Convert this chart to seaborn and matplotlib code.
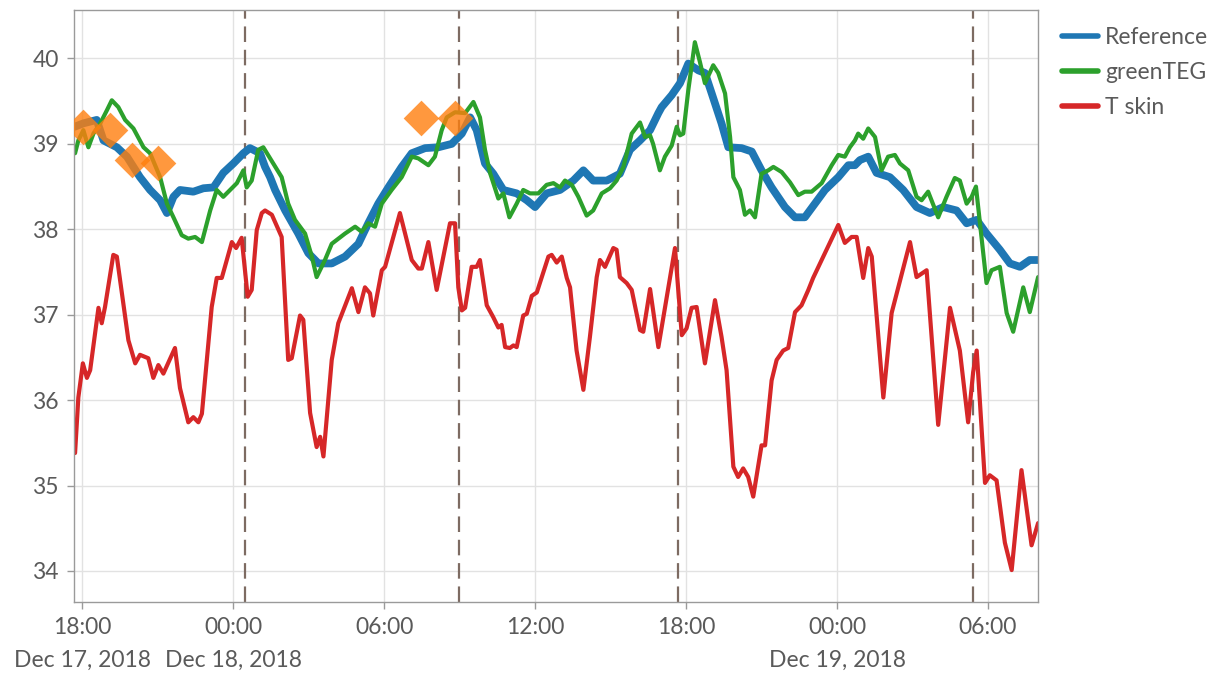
import pandas as pd
import matplotlib.pyplot as plt
import seaborn as sns

# hours after Dec 17, 2018 18:00 and temperature in degC
ref_hours = [-0.30, 0.05, 0.58, 0.85, 1.38, 1.78, 2.30, 2.70, 3.10, 3.37, 3.63, 3.89, 4.42, 4.82, 5.22,
             5.61, 6.01, 6.41, 6.67, 7.07, 7.27, 7.47, 7.67, 8.07, 8.59, 8.99, 9.39, 9.92, 10.45, 10.98,
             11.37, 11.77, 12.17, 12.70, 13.10, 13.63, 14.16, 14.69, 15.09, 15.42, 15.68, 16.01, 16.34,
             16.74, 17.27, 17.67, 18.00, 18.46, 18.99, 19.52, 19.92, 20.31, 20.85, 21.37, 21.77, 22.17,
             22.57, 22.90, 23.03, 23.43, 23.76, 24.09, 24.49, 24.75, 25.02, 25.41, 25.68, 26.21, 26.61,
             27.00, 27.40, 27.93, 28.33, 28.72, 29.12, 29.52, 30.05, 30.45, 30.71, 30.91, 31.24, 31.57,
             32.10, 32.63, 33.16, 33.69, 34.22, 34.75, 35.15, 35.55, 35.94, 36.47, 36.87, 37.27, 37.66,
             37.99]
ref_temp = [39.20, 39.24, 39.28, 39.04, 38.96, 38.85, 38.61, 38.46, 38.34, 38.19, 38.38, 38.46, 38.44,
            38.48, 38.49, 38.66, 38.77, 38.89, 38.95, 38.89, 38.73, 38.61, 38.46, 38.22, 37.95, 37.72,
            37.60, 37.60, 37.68, 37.83, 38.07, 38.30, 38.49, 38.73, 38.89, 38.95, 38.96, 39.00, 39.12,
            39.31, 39.16, 38.77, 38.65, 38.46, 38.42, 38.34, 38.26, 38.42, 38.46, 38.57, 38.69, 38.57,
            38.57, 38.65, 38.93, 39.04, 39.16, 39.36, 39.43, 39.57, 39.71, 39.94, 39.86, 39.83, 39.59,
            39.24, 38.96, 38.95, 38.91, 38.69, 38.49, 38.26, 38.14, 38.14, 38.30, 38.46, 38.61, 38.75,
            38.75, 38.81, 38.85, 38.66, 38.61, 38.46, 38.26, 38.19, 38.26, 38.22, 38.07, 38.11, 37.95,
            37.76, 37.60, 37.56, 37.64, 37.64]

teg_hours = [-0.28, -0.15, 0.05, 0.25, 0.45, 0.72, 0.98, 1.18, 1.44, 1.71, 2.04, 2.44, 2.70, 3.10, 3.37,
             3.63, 3.96, 4.22, 4.49, 4.76, 5.09, 5.35, 5.61, 5.88, 6.15, 6.41, 6.54, 6.74, 7.00, 7.20,
             7.47, 7.93, 8.19, 8.46, 8.86, 9.13, 9.32, 9.65, 9.92, 10.45, 10.85, 11.11, 11.37, 11.64,
             11.91, 12.30, 12.70, 13.10, 13.36, 13.76, 14.02, 14.29, 14.49, 14.82, 15.22, 15.55, 15.81,
             16.01, 16.21, 16.54, 16.74, 16.98, 17.27, 17.53, 17.80, 18.13, 18.46, 18.73, 18.99, 19.19,
             19.46, 19.72, 20.05, 20.31, 20.65, 20.98, 21.24, 21.51, 21.84, 22.17, 22.37, 22.57, 22.69,
             22.96, 23.16, 23.43, 23.63, 23.76, 23.89, 24.09, 24.35, 24.55, 24.75, 25.08, 25.28, 25.55,
             25.75, 25.88, 26.14, 26.34, 26.54, 26.74, 27.00, 27.27, 27.47, 27.80, 28.13, 28.46, 28.72,
             28.99, 29.39, 29.79, 30.05, 30.31, 30.51, 30.71, 30.84, 31.04, 31.24, 31.51, 31.77, 32.03,
             32.30, 32.50, 32.83, 33.16, 33.36, 33.62, 34.02, 34.35, 34.68, 34.88, 35.15, 35.35, 35.52,
             35.74, 35.94, 36.14, 36.47, 36.74, 37.00, 37.40, 37.66, 37.99]
teg_temp = [38.89, 39.04, 39.16, 38.96, 39.12, 39.24, 39.39, 39.51, 39.43, 39.28, 39.18, 38.96, 38.89,
            38.61, 38.30, 38.14, 37.93, 37.89, 37.91, 37.85, 38.22, 38.46, 38.38, 38.46, 38.54, 38.69,
            38.49, 38.57, 38.93, 38.96, 38.83, 38.61, 38.30, 38.11, 37.95, 37.68, 37.44, 37.64, 37.83,
            37.95, 38.03, 37.97, 38.07, 38.03, 38.30, 38.46, 38.61, 38.85, 38.83, 38.75, 38.85, 39.16,
            39.31, 39.37, 39.36, 39.49, 39.31, 38.93, 38.66, 38.36, 38.42, 38.14, 38.30, 38.46, 38.42,
            38.42, 38.52, 38.54, 38.49, 38.57, 38.52, 38.38, 38.16, 38.22, 38.42, 38.48, 38.57, 38.73,
            39.12, 39.25, 39.08, 39.10, 39.00, 38.69, 38.85, 38.98, 39.20, 39.10, 39.12, 39.63, 40.19,
            39.96, 39.71, 39.92, 39.83, 39.59, 39.08, 38.61, 38.46, 38.17, 38.22, 38.14, 38.65, 38.69,
            38.73, 38.67, 38.55, 38.40, 38.44, 38.44, 38.54, 38.75, 38.87, 38.85, 38.96, 39.04, 39.12,
            39.06, 39.18, 39.08, 38.69, 38.85, 38.87, 38.77, 38.69, 38.38, 38.34, 38.44, 38.14, 38.38,
            38.60, 38.57, 38.30, 38.38, 38.50, 37.91, 37.37, 37.52, 37.56, 37.02, 36.80, 37.32, 37.03,
            37.44]

skin_hours = [-0.28, -0.15, 0.03, 0.19, 0.32, 0.65, 0.78, 0.91, 1.24, 1.38, 1.84, 2.11, 2.30, 2.63, 2.83,
              3.03, 3.23, 3.69, 3.89, 4.22, 4.42, 4.62, 4.76, 5.15, 5.35, 5.55, 5.95, 6.12, 6.34, 6.58,
              6.74, 6.94, 7.14, 7.27, 7.54, 7.93, 8.19, 8.33, 8.66, 8.79, 9.06, 9.32, 9.46, 9.59, 9.92,
              10.18, 10.72, 10.98, 11.24, 11.44, 11.57, 11.91, 12.04, 12.63, 13.10, 13.36, 13.50, 13.76,
              14.09, 14.62, 14.82, 14.95, 15.09, 15.22, 15.48, 15.68, 15.81, 16.08, 16.34, 16.54, 16.67,
              16.81, 17.00, 17.14, 17.27, 17.53, 17.67, 17.87, 18.07, 18.53, 18.66, 18.86, 19.06, 19.26,
              19.39, 19.65, 19.92, 20.18, 20.45, 20.58, 20.78, 21.11, 21.24, 21.37, 21.64, 21.84, 22.17,
              22.30, 22.57, 22.90, 23.56, 23.83, 24.02, 24.22, 24.42, 24.75, 25.15, 25.41, 25.61, 25.88,
              26.07, 26.27, 26.47, 26.67, 27.00, 27.14, 27.40, 27.60, 27.86, 28.06, 28.33, 28.59, 28.86,
              29.05, 30.05, 30.31, 30.58, 30.78, 31.04, 31.24, 31.38, 31.84, 32.17, 32.90, 33.16, 33.56,
              34.02, 34.49, 34.88, 35.21, 35.41, 35.55, 35.88, 36.07, 36.34, 36.67, 36.94, 37.33, 37.73,
              37.99]
skin_temp = [35.38, 36.03, 36.43, 36.26, 36.35, 37.08, 36.90, 37.09, 37.70, 37.68, 36.70, 36.43, 36.53,
             36.49, 36.26, 36.41, 36.31, 36.61, 36.14, 35.74, 35.80, 35.74, 35.84, 37.09, 37.43, 37.43,
             37.85, 37.78, 37.90, 37.21, 37.29, 37.99, 38.19, 38.22, 38.17, 37.91, 36.47, 36.49, 36.99,
             36.94, 35.85, 35.45, 35.57, 35.34, 36.47, 36.90, 37.31, 37.03, 37.32, 37.25, 36.99, 37.52,
             37.56, 38.19, 37.64, 37.54, 37.54, 37.85, 37.29, 38.07, 38.07, 37.32, 37.05, 37.08, 37.56,
             37.56, 37.64, 37.11, 36.97, 36.85, 36.88, 36.62, 36.61, 36.64, 36.62, 36.99, 37.01, 37.22,
             37.26, 37.68, 37.70, 37.61, 37.68, 37.43, 37.32, 36.58, 36.12, 36.74, 37.44, 37.64, 37.56,
             37.78, 37.76, 37.44, 37.37, 37.29, 36.82, 36.80, 37.30, 36.62, 37.78, 36.76, 36.84, 37.08,
             37.09, 36.43, 37.17, 36.74, 36.35, 35.22, 35.10, 35.20, 35.10, 34.87, 35.47, 35.47, 36.23,
             36.47, 36.58, 36.61, 37.03, 37.11, 37.29, 37.43, 38.05, 37.84, 37.91, 37.91, 37.43, 37.78,
             37.68, 36.03, 37.02, 37.85, 37.44, 37.52, 35.71, 37.08, 36.58, 35.74, 36.33, 36.58, 35.03,
             35.12, 35.06, 34.33, 34.01, 35.18, 34.30, 34.56]

# orange diamond markers
event_hours = [0.05, 1.11, 1.97, 3.03, 13.47, 14.82]
event_temp = [39.20, 39.16, 38.81, 38.77, 39.30, 39.30]

# dashed vertical markers
vline_hours = [6.48, 14.98, 23.68, 35.40]

tick_hours = [0, 6, 12, 18, 24, 30, 36]
tick_labels = ['18:00\nDec 17, 2018', '00:00\nDec 18, 2018', '06:00', '12:00', '18:00',
               '00:00\nDec 19, 2018', '06:00']

t0 = pd.Timestamp('2018-12-17 18:00')
def to_time(hours):
    return t0 + pd.to_timedelta(hours, unit='h')

ref = pd.DataFrame({'time': to_time(ref_hours), 'temp': ref_temp})
teg = pd.DataFrame({'time': to_time(teg_hours), 'temp': teg_temp})
skin = pd.DataFrame({'time': to_time(skin_hours), 'temp': skin_temp})
events = pd.DataFrame({'time': to_time(event_hours), 'temp': event_temp})

sns.set_theme(style='whitegrid')
plt.rcParams['font.family'] = ['Lato', 'DejaVu Sans']
text_color = '#5a5a5a'

fig = plt.figure(figsize=(12.18, 6.73), dpi=100)
ax = fig.add_axes([0.0608, 0.106, 0.7915, 0.879])

sns.lineplot(data=ref, x='time', y='temp', ax=ax, color='#1f77b4', linewidth=5.6,
             label='Reference')
sns.lineplot(data=teg, x='time', y='temp', ax=ax, color='#2ca02c', linewidth=3.0, label='greenTEG')
sns.lineplot(data=skin, x='time', y='temp', ax=ax, color='#d62728', linewidth=3.0, label='T skin')
sns.scatterplot(data=events, x='time', y='temp', ax=ax, color='#ff7f0e', marker='D', s=330,
                alpha=0.8, linewidth=0, zorder=5, legend=False)

for h in vline_hours:
    ax.axvline(to_time(h), color='#7d6b62', linewidth=1.6, dashes=(7, 3.5), zorder=1)

ax.set_xlim(to_time(-0.32), to_time(37.99))
ax.set_ylim(33.64, 40.566)
ax.set_yticks([34, 35, 36, 37, 38, 39, 40])
ax.set_xticks(to_time(tick_hours))
ax.set_xticklabels(tick_labels, linespacing=1.7)
ax.set_xlabel('')
ax.set_ylabel('')

ax.grid(True, color='#e2e2e2', linewidth=1.0)
for sp in ax.spines.values():
    sp.set_color('#9a9a9a')
    sp.set_linewidth(1.0)
ax.tick_params(axis='both', which='major', labelsize=16.5, colors=text_color, length=5,
               width=1, color='#9a9a9a', direction='out', bottom=True, left=True, pad=6)

handles, labels = ax.get_legend_handles_labels()
ax.get_legend().remove()
leg = fig.legend(handles, labels, loc='upper left', bbox_to_anchor=(0.872, 0.960),
                 frameon=False, fontsize=16.5, handlelength=1.57, handletextpad=0.3,
                 labelspacing=0.62, borderpad=0, borderaxespad=0)
for line in leg.get_lines():
    line.set_linewidth(4)
for t in leg.get_texts():
    t.set_color(text_color)

fig.savefig('out.png', dpi=100)
